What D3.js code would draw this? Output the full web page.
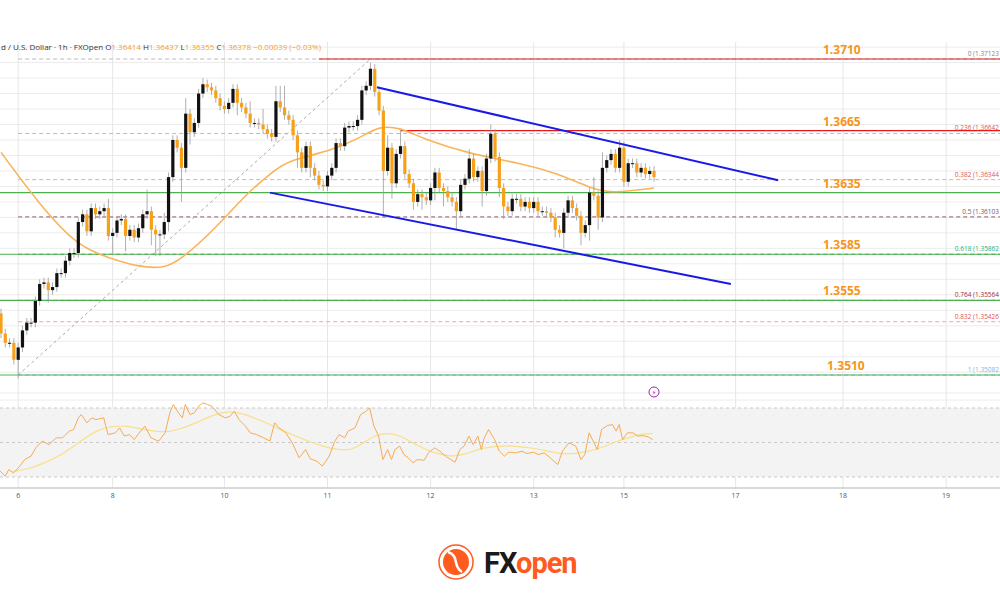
<!DOCTYPE html>
<html>
<head>
<meta charset="utf-8">
<script src="https://cdn.jsdelivr.net/npm/d3@7"></script>
<style>
body { margin: 0; background: #fff; }
svg { display: block; font-family: "Open Sans", "DejaVu Sans", sans-serif; }
</style>
</head>
<body>
<svg id="chart" width="1000" height="600"></svg>
<script>
// hourly closes, open = previous close
var firstOpen = 1.3548
var closes = [1.3535,1.3529,1.3529,1.3518,1.3526,1.3537,1.3542,1.3542,1.3556,1.3567,
  1.3568,1.3563,1.3565,1.3574,1.3574,1.3582,1.3587,1.3587,1.3607,1.3612,
  1.3601,1.3616,1.3612,1.3614,1.3616,1.3598,1.3600,1.3608,1.3609,1.3598,
  1.3602,1.3597,1.3603,1.3612,1.3614,1.3602,1.3599,1.3599,1.3607,1.3636,
  1.3660,1.3655,1.3642,1.3677,1.3665,1.3671,1.3690,1.3696,1.3694,1.3692,
  1.3687,1.3682,1.3680,1.3684,1.3693,1.3684,1.3681,1.3677,1.3671,1.3671,
  1.3670,1.3667,1.3664,1.3662,1.3685,1.3681,1.3676,1.3673,1.3663,1.3652,
  1.3642,1.3656,1.3642,1.3637,1.3631,1.3630,1.3637,1.3642,1.3658,1.3656,
  1.3668,1.3669,1.3669,1.3673,1.3692,1.3695,1.3706,1.3691,1.3679,1.3640,
  1.3655,1.3632,1.3651,1.3656,1.3638,1.3632,1.3620,1.3625,1.3623,1.3621,
  1.3629,1.3639,1.3629,1.3627,1.3623,1.3620,1.3614,1.3631,1.3635,1.3648,
  1.3636,1.3640,1.3627,1.3648,1.3664,1.3649,1.3629,1.3617,1.3614,1.3622,
  1.3622,1.3617,1.3620,1.3616,1.3620,1.3614,1.3614,1.3613,1.3610,1.3602,
  1.3600,1.3613,1.3621,1.3616,1.3611,1.3600,1.3605,1.3626,1.3624,1.3610,
  1.3642,1.3647,1.3651,1.3642,1.3655,1.3633,1.3645,1.3645,1.3639,1.3642,
  1.3638,1.3640,1.3636]
// wick lengths in pips beyond the body (default 3)
var wickUp = {34:14, 38:6, 43:10, 47:4, 58:8, 61:10, 64:10, 65:10, 66:14, 86:4, 90:8, 93:10,
  109:6, 114:6, 138:10, 140:10, 144:5, 145:4, 25:6}
var wickDown = {4:12, 11:8, 26:12, 29:10, 35:10, 36:14, 37:14, 39:6, 42:22, 44:8, 55:8, 69:10,
  72:6, 89:30, 91:10, 96:5, 98:8, 101:8, 103:10, 106:12, 112:10, 116:6, 117:8, 129:5,
  131:10, 135:8, 137:10, 139:8}

// moving average [bar, price]
var maLine = [[0,1.3652],[9,1.3618],[18,1.3591],[25,1.3584],[32,1.3578],[38,1.3577],[42,1.3583],
  [50,1.3603],[57,1.3625],[63,1.3639],[67,1.3647],[77,1.3653],[84,1.3662],[88,1.3669],[93,1.3668],
  [98,1.3661],[109,1.3651],[121,1.3645],[130,1.3638],[137,1.3629],[142,1.3626],[146,1.3627],[152,1.3629]]

// RSI [bar, value]
var rsi = [[-0.2,33.4],[1.0,30.5],[1.8,34.3],[2.9,32.4],[4.4,36.3],[5.5,40.1],[7.0,42.1],[8.1,46.9],
  [9.6,50.8],[11.2,48.8],[12.8,52.7],[14.3,52.7],[15.9,56.6],[16.9,57.5],[18.0,64.3],[18.7,66.2],
  [20.0,61.4],[21.1,64.3],[22.1,63.3],[23.9,64.3],[24.9,54.6],[26.6,55.6],[27.6,58.5],[28.7,53.7],
  [29.9,54.6],[31.0,51.7],[32.5,56.6],[33.5,59.5],[34.9,52.7],[36.7,50.8],[38.2,55.6],[39.3,67.2],
  [40.1,72.0],[41.3,67.2],[42.2,64.3],[42.9,72.0],[44.0,66.2],[45.0,67.2],[46.0,71.0],[47.0,73.0],
  [48.1,72.0],[49.1,71.0],[50.7,66.2],[52.2,64.3],[53.3,65.2],[54.3,68.1],[55.4,63.3],[56.9,59.5],
  [58.0,55.6],[59.5,54.6],[61.1,52.7],[62.6,50.8],[63.7,61.4],[64.7,58.5],[66.3,55.6],[67.8,49.8],
  [69.4,41.1],[70.9,45.9],[72.0,40.5],[73.5,39.2],[74.8,36.3],[76.4,42.1],[77.7,50.8],[78.7,54.6],
  [80.0,52.7],[80.8,56.6],[82.4,58.5],[83.7,66.2],[85.0,68.1],[85.8,70.1],[86.8,59.5],[87.9,53.7],
  [88.9,40.1],[90.0,45.9],[90.9,40.1],[91.7,45.9],[92.8,47.9],[93.8,43.0],[94.8,41.1],[95.9,38.2],
  [96.9,40.1],[98.5,39.7],[99.5,44.0],[100.9,46.9],[102.1,45.0],[103.7,41.7],[105.7,38.6],[106.8,45.9],
  [107.8,47.9],[108.9,53.7],[109.9,48.8],[111.0,53.7],[111.8,45.9],[112.5,52.7],[113.5,57.5],
  [114.9,51.7],[116.0,45.0],[117.2,42.1],[118.2,44.4],[119.8,44.0],[121.3,45.0],[122.4,43.6],
  [123.9,44.4],[125.0,43.0],[126.5,44.0],[128.1,40.5],[129.6,37.2],[130.7,45.0],[132.2,49.8],
  [133.8,47.9],[135.0,40.1],[135.9,43.0],[136.9,55.6],[138.8,45.9],[139.8,57.5],[141.1,59.8],
  [142.3,60.4],[143.2,56.6],[143.9,60.4],[144.7,51.7],[145.8,55.6],[147.1,55.6],[148.2,53.7],
  [149.4,54.0],[150.6,53.3],[151.7,51.7]]
var rsiMa = [[2.9,33.4],[6.0,34.3],[10.2,38.2],[14.3,43.0],[18.5,50.8],[22.6,57.5],[25.7,59.5],
  [29.4,59.8],[33.0,57.5],[38.2,55.6],[41.3,57.5],[45.5,61.4],[49.6,66.2],[52.8,68.1],[55.9,67.2],
  [60.0,63.3],[64.2,58.5],[69.4,52.7],[74.6,47.9],[79.8,45.0],[82.9,46.9],[87.0,54.6],[90.2,55.6],
  [93.3,53.7],[96.4,48.8],[100.5,44.0],[104.7,41.7],[107.8,43.0],[112.0,46.9],[115.1,47.9],
  [119.3,48.2],[123.4,46.9],[127.6,45.0],[130.7,43.0],[134.8,44.0],[139.0,45.9],[143.2,50.8],
  [147.3,53.7],[149.4,55.0],[151.7,55.2]]

// date ticks (bar index, label)
var dayTicks = [[4,"6"],[26,"8"],[52,"10"],[76,"11"],[100,"12"],[124,"13"],[145,"15"],[171,"17"],[196,"18"],[220,"19"]]

// support / resistance levels
var levels = [
  {label:"1.3710", price:1.37123, color:"#e31b1b", from:74},
  {label:"1.3665", price:1.3666, color:"#e31b1b", from:93},
  {label:"1.3635", price:1.3626, color:"#4caf50", from:-1},
  {label:"1.3585", price:1.35862, color:"#4caf50", from:-1},
  {label:"1.3555", price:1.35564, color:"#4caf50", from:-1},
  {label:"1.3510", price:1.35082, color:"#4caf50", from:-1}]
var fibs = [
  {r:"0", price:1.37123, line:"#bbb", text:"#888"},
  {r:"0.236", price:1.36642, line:"#f5a3a3", text:"#e05555"},
  {r:"0.382", price:1.36344, line:"#f5a3a3", text:"#e05555"},
  {r:"0.5", price:1.36103, line:"#8a5a64", text:"#7a5a64"},
  {r:"0.618", price:1.35862, line:"#4caf50", text:"#26b38a"},
  {r:"0.764", price:1.35564, line:"#a0303e", text:"#a0303e"},
  {r:"0.832", price:1.35426, line:"#f5a3a3", text:"#e05555"},
  {r:"1", price:1.35082, line:"#8cc8f0", text:"#7ab8e8"}]
// channel trend lines [bar, price]
var channel = [
  [[87.5,1.3694],[180.9,1.3634]],
  [[62.6,1.3626],[169.9,1.3567]]]

var svg = d3.select("#chart")
var x = d3.scaleLinear().domain([0,152]).range([1,654])
var y = d3.scaleLinear().domain([1.35082,1.37123]).range([375,59])
var yr = d3.scaleLinear().domain([30,70]).range([477,408])

// grid
var grid = svg.append("g")
d3.range(1.346,1.3725,0.001).forEach(function(p){
  var yy = y(p)
  if (yy > 44 && yy < 386)
    grid.append("line").attr("x1",0).attr("x2",1000).attr("y1",yy).attr("y2",yy)
      .attr("stroke","#ececec")
})
;[393,400,427,460].forEach(function(yy){
  grid.append("line").attr("x1",0).attr("x2",1000).attr("y1",yy).attr("y2",yy).attr("stroke","#ececec")
})
dayTicks.forEach(function(d){
  grid.append("line").attr("x1",x(d[0])).attr("x2",x(d[0])).attr("y1",42).attr("y2",488)
    .attr("stroke","#e6e6e6")
})

// RSI band
svg.append("rect").attr("x",0).attr("width",1000).attr("y",yr(70)).attr("height",yr(30)-yr(70))
  .attr("fill","#f3f3f3")
;[70,50,30].forEach(function(v){
  svg.append("line").attr("x1",0).attr("x2",1000).attr("y1",yr(v)).attr("y2",yr(v))
    .attr("stroke","#c8c8c8").attr("stroke-dasharray","3,3")
})

// fib levels
fibs.forEach(function(f){
  svg.append("line").attr("x1",x(4)).attr("x2",1000).attr("y1",y(f.price)).attr("y2",y(f.price))
    .attr("stroke",f.line).attr("stroke-dasharray","4,3")
  svg.append("text").attr("x",999).attr("y",y(f.price)-3).attr("text-anchor","end")
    .attr("font-size",6.5).attr("fill",f.text).text(f.r+" ("+f.price.toFixed(5))
})
svg.append("line").attr("x1",x(4)).attr("y1",y(1.35082)).attr("x2",x(86)).attr("y2",y(1.37123))
  .attr("stroke","#aaa").attr("stroke-dasharray","3,3")

// level lines
levels.forEach(function(l){
  svg.append("line").attr("x1",l.from < 0 ? 0 : x(l.from)).attr("x2",1000)
    .attr("y1",y(l.price)).attr("y2",y(l.price)).attr("stroke",l.color).attr("stroke-width",1.2)
})

// moving average
svg.append("path").datum(maLine).attr("fill","none").attr("stroke","#f9b45a").attr("stroke-width",1.6)
  .attr("d",d3.line().x(function(d){return x(d[0])}).y(function(d){return y(d[1])}).curve(d3.curveBasis))

// candles
var candles = closes.map(function(c,i){
  var o = i == 0 ? firstOpen : closes[i-1]
  return {i:i, o:o, c:c,
    h:Math.max(o,c) + (wickUp[i] || 3)*0.0001,
    l:Math.min(o,c) - (wickDown[i] || 3)*0.0001}
})
var cg = svg.append("g")
cg.selectAll(".wick").data(candles).enter().append("line")
  .attr("x1",function(d){return x(d.i)}).attr("x2",function(d){return x(d.i)})
  .attr("y1",function(d){return y(d.h)}).attr("y2",function(d){return y(d.l)})
  .attr("stroke","#9a9a9a").attr("stroke-width",0.8)
cg.selectAll(".body").data(candles).enter().append("rect")
  .attr("x",function(d){return x(d.i)-1.6}).attr("width",3.2)
  .attr("y",function(d){return y(Math.max(d.o,d.c))})
  .attr("height",function(d){return Math.max(1,Math.abs(y(d.o)-y(d.c)))})
  .attr("fill",function(d){return d.c >= d.o ? "#111" : "#f7a01a"})

// channel
channel.forEach(function(c){
  svg.append("line").attr("x1",x(c[0][0])).attr("y1",y(c[0][1])).attr("x2",x(c[1][0])).attr("y2",y(c[1][1]))
    .attr("stroke","#1a1ae6").attr("stroke-width",2)
})

// level labels
levels.forEach(function(l){
  svg.append("text").attr("x",l.label == "1.3510" ? 827 : 823).attr("y",y(l.price)-5)
    .attr("font-size",12).attr("font-weight","bold").attr("fill","#f7941d").text(l.label)
})

// RSI lines
var rl = d3.line().x(function(d){return x(d[0])}).y(function(d){return yr(d[1])})
svg.append("path").datum(rsiMa).attr("fill","none").attr("stroke","#f8e08a").attr("stroke-width",1.2)
  .attr("d",rl.curve(d3.curveBasis))
svg.append("path").datum(rsi).attr("fill","none").attr("stroke","#f7ab55").attr("stroke-width",1)
  .attr("d",d3.line().x(function(d){return x(d[0])}).y(function(d){return yr(d[1])}))

// x axis
svg.append("line").attr("x1",0).attr("x2",1000).attr("y1",488).attr("y2",488).attr("stroke","#ccc").attr("stroke-width",1.5)
dayTicks.forEach(function(d){
  svg.append("text").attr("x",x(d[0])).attr("y",498).attr("text-anchor","middle")
    .attr("font-size",7).attr("fill","#555").text(d[1])
})

// lightning marker
svg.append("circle").attr("cx",654).attr("cy",392).attr("r",5).attr("fill","#fff").attr("stroke","#9c27b0")
svg.append("text").attr("x",654).attr("y",395).attr("text-anchor","middle").attr("font-size",7)
  .attr("fill","#9c27b0").text("⚡")

// header
var hd = svg.append("text").attr("x",1).attr("y",50).attr("font-size",8).attr("fill","#333")
hd.append("tspan").text("d / U.S. Dollar · 1h · FXOpen  ")
;[["O","1.36414"],["H","1.36437"],["L","1.36355"],["C","1.36378"]].forEach(function(p){
  hd.append("tspan").attr("fill","#333").text(p[0])
  hd.append("tspan").attr("fill","#f7a01a").text(p[1]+"  ")
})
hd.append("tspan").attr("fill","#f7a01a").text("−0.00039 (−0.03%)")

// logo
var lg = svg.append("g")
lg.append("circle").attr("cx",456).attr("cy",562).attr("r",17).attr("fill","none").attr("stroke","#ff5a1f").attr("stroke-width",1.5)
lg.append("circle").attr("cx",456).attr("cy",562).attr("r",13).attr("fill","#ff5a1f")
lg.append("path").attr("d","M448,552 C460,556 452,566 462,572").attr("stroke","#fff").attr("stroke-width",2.5).attr("fill","none")
var lt = lg.append("text").attr("x",484).attr("y",573).attr("font-size",29).attr("font-weight","bold")
  .attr("font-family","Roboto, sans-serif").attr("letter-spacing",-1)
lt.append("tspan").attr("fill","#1a1a1a").text("FX")
lt.append("tspan").attr("fill","#ff5a1f").text("open")
</script>
</body>
</html>
